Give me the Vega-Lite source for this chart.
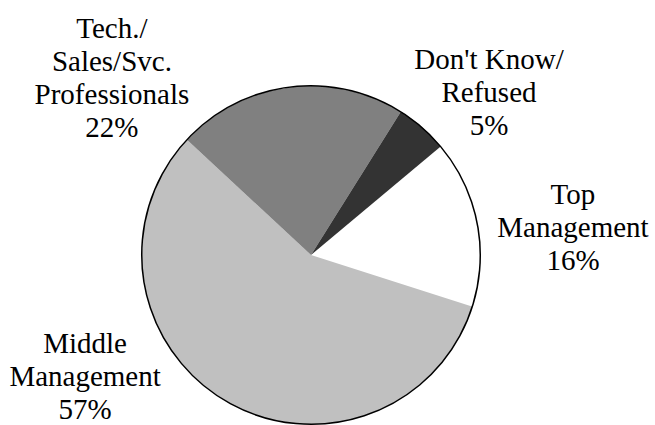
{
  "$schema": "https://vega.github.io/schema/vega-lite/v6.json",
  "autosize": {"type": "none"},
  "padding": {"left": 0, "top": 0, "right": 33, "bottom": 0},
  "width": 622,
  "height": 510,
  "background": "white",
  "view": {"stroke": null},
  "data": {
    "values": [
      {"category": "Top Management", "rank": 1, "pct": 16, "label": "Top\nManagement\n16%"},
      {"category": "Middle Management", "rank": 2, "pct": 57, "label": "Middle\nManagement\n57%"},
      {"category": "Tech./Sales/Svc. Professionals", "rank": 3, "pct": 22, "label": "Tech./\nSales/Svc.\nProfessionals\n22%"},
      {"category": "Don't Know/Refused", "rank": 4, "pct": 5, "label": "Don't Know/\nRefused\n5%"}
    ]
  },
  "layer": [
    {
      "mark": {"type": "arc", "outerRadius": 169},
      "encoding": {
        "theta": {"field": "pct", "type": "quantitative", "stack": true, "scale": {"domain": [0, 100], "range": [0.8745, 7.1577]}},
        "order": {"field": "rank", "type": "quantitative"},
        "color": {"field": "category", "type": "nominal", "legend": null,
          "scale": {"domain": ["Top Management", "Middle Management", "Tech./Sales/Svc. Professionals", "Don't Know/Refused"],
                    "range": ["#ffffff", "#c0c0c0", "#808080", "#333333"]}}
      }
    },
    {
      "data": {"values": [{"pct": 100}]},
      "mark": {"type": "arc", "outerRadius": 169, "fill": "transparent", "stroke": "black", "strokeWidth": 1.5},
      "encoding": {
        "theta": {"field": "pct", "type": "quantitative"}
      }
    },
    {
      "transform": [
        {"window": [{"op": "sum", "field": "pct", "as": "cum"}], "sort": [{"field": "rank"}], "frame": [null, 0]},
        {"calculate": "datum.cum - datum.pct/2", "as": "mid"},
        {"filter": "datum.rank == 1"}
      ],
      "mark": {"type": "text", "radius": 200, "dx": 65.7, "dy": -12.5, "align": "center", "baseline": "alphabetic", "font": "Liberation Serif", "fontSize": 29, "lineHeight": 33, "lineBreak": "\n", "color": "black"},
      "encoding": {"theta": {"field": "mid", "type": "quantitative", "stack": null}, "text": {"field": "label"}}
    },
    {
      "transform": [
        {"window": [{"op": "sum", "field": "pct", "as": "cum"}], "sort": [{"field": "rank"}], "frame": [null, 0]},
        {"calculate": "datum.cum - datum.pct/2", "as": "mid"},
        {"filter": "datum.rank == 2"}
      ],
      "mark": {"type": "text", "radius": 200, "dx": -125, "dy": -74.7, "align": "center", "baseline": "alphabetic", "font": "Liberation Serif", "fontSize": 29, "lineHeight": 33, "lineBreak": "\n", "color": "black"},
      "encoding": {"theta": {"field": "mid", "type": "quantitative", "stack": null}, "text": {"field": "label"}}
    },
    {
      "transform": [
        {"window": [{"op": "sum", "field": "pct", "as": "cum"}], "sort": [{"field": "rank"}], "frame": [null, 0]},
        {"calculate": "datum.cum - datum.pct/2", "as": "mid"},
        {"filter": "datum.rank == 3"}
      ],
      "mark": {"type": "text", "radius": 200, "dx": -173, "dy": -18.7, "align": "center", "baseline": "alphabetic", "font": "Liberation Serif", "fontSize": 29, "lineHeight": 33, "lineBreak": "\n", "color": "black"},
      "encoding": {"theta": {"field": "mid", "type": "quantitative", "stack": null}, "text": {"field": "label"}}
    },
    {
      "transform": [
        {"window": [{"op": "sum", "field": "pct", "as": "cum"}], "sort": [{"field": "rank"}], "frame": [null, 0]},
        {"calculate": "datum.cum - datum.pct/2", "as": "mid"},
        {"filter": "datum.rank == 4"}
      ],
      "mark": {"type": "text", "radius": 200, "dx": 46.5, "dy": -35.3, "align": "center", "baseline": "alphabetic", "font": "Liberation Serif", "fontSize": 29, "lineHeight": 33, "lineBreak": "\n", "color": "black"},
      "encoding": {"theta": {"field": "mid", "type": "quantitative", "stack": null}, "text": {"field": "label"}}
    }
  ]
}
